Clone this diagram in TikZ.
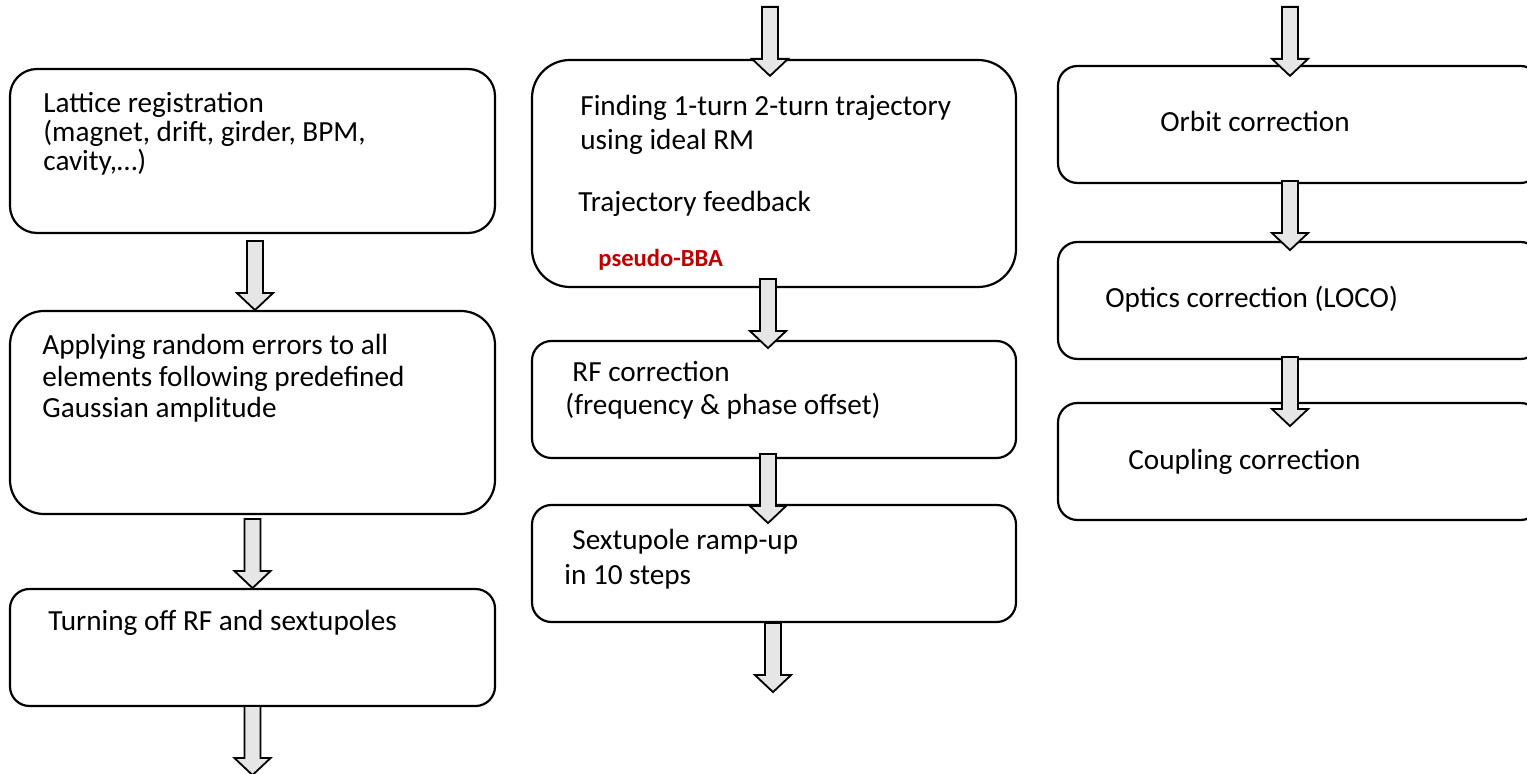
\documentclass[tikz,border=0pt]{standalone}
\usepackage{fontspec}
\setmainfont{Carlito}
\usepackage{tikz}

\definecolor{bbared}{HTML}{C00000}
\definecolor{arrowgray}{HTML}{E7E6E6}

% block arrow pointing down, tail centre at #1
\newcommand{\blockarrow}[1]{%
	\draw[line width=0.9pt, fill=arrowgray, line join=miter]
		(#1) ++(-8, 0) -- ++(16, 0) -- ++(0, 52) -- ++(10, 0) --
		++(-18, 17) -- ++(-18, -17) -- ++(10, 0) -- cycle;}

\begin{document}
\begin{tikzpicture}[x=0.5pt, y=-0.5pt,
	stepbox/.style = {draw, line width=1.1pt, rounded corners=9.75pt,
		minimum width=242.5pt, minimum height=58.5pt, inner sep=0pt},
	steptext/.style = {anchor=base west, inner sep=0pt,
		font=\fontsize{14.6pt}{16pt}\selectfont}]

\useasboundingbox (0, 0) rectangle (1527, 774);

%left column
\node[stepbox, rounded corners=13.5pt, minimum height=82pt] (box1) at (252.5, 151) {};
\node[stepbox, rounded corners=17pt, minimum height=101.5pt] (box2) at (252.5, 412.5) {};
\node[stepbox] (box3) at (252.5, 647.5) {};

\node[steptext] (lat1) at (43, 113) {Lattice registration};
\node[steptext] (lat2) at (43, 142) {(magnet, drift, girder, BPM,};
\node[steptext] (lat3) at (43, 171) {cavity,…)};

\node[steptext] (err1) at (42, 355) {Applying random errors to all};
\node[steptext] (err2) at (42, 387) {elements following predefined};
\node[steptext] (err3) at (42, 418) {Gaussian amplitude};

\node[steptext] (off1) at (48, 631) {Turning off RF and sextupoles};

%middle column
\node[stepbox, rounded corners=19pt, minimum width=242pt, minimum height=113.5pt] (box4) at (774, 173.5) {};
\node[stepbox, minimum width=242pt] (box5) at (774, 399.5) {};
\node[stepbox, minimum width=242pt] (box6) at (774, 563.5) {};

\node[steptext] (traj1) at (580, 116) {Finding 1-turn 2-turn trajectory};
\node[steptext] (traj2) at (580, 150) {using ideal RM};
\node[steptext] (traj3) at (578, 212) {Trajectory feedback};
\node[steptext, font=\fontsize{12.3pt}{14pt}\bfseries\selectfont,
	text=bbared] (bba) at (598, 267) {pseudo-BBA};

\node[steptext] (rf1) at (572, 382) {RF correction};
\node[steptext] (rf2) at (565, 415) {(frequency \& phase offset)};

\node[steptext] (sext1) at (572, 550) {Sextupole ramp-up};
\node[steptext] (sext2) at (564, 585) {in 10 steps};

%right column, cut at the page edge
\node[stepbox, minimum width=241pt] (box7) at (1299, 124.5) {};
\node[stepbox, minimum width=241pt] (box8) at (1299, 300.5) {};
\node[stepbox, minimum width=241pt] (box9) at (1299, 461.5) {};

\node[steptext] (orb) at (1160, 132) {Orbit correction};
\node[steptext] (loco) at (1105, 308) {Optics correction (LOCO)};
\node[steptext] (coup) at (1128, 470) {Coupling correction};

%arrows start
\coordinate (ar1) at ([xshift=1.25pt, yshift=-3.5pt]box1.south);
\coordinate (ar2) at ([yshift=-2pt]box2.south);
\coordinate (ar3) at ([yshift=0.5pt]box3.south);
\coordinate (ar4) at ([xshift=-2pt, yshift=26pt]box4.north);
\coordinate (ar5) at ([xshift=-3pt, yshift=4.5pt]box4.south);
\coordinate (ar6) at ([xshift=-3pt, yshift=2.5pt]box5.south);
\coordinate (ar7) at ([xshift=-0.5pt]box6.south);
\coordinate (ar8) at ([xshift=-4.5pt, yshift=29pt]box7.north);
\coordinate (ar9) at ([xshift=-4.5pt, yshift=1.5pt]box7.south);
\coordinate (ar10) at ([xshift=-4.5pt, yshift=1.5pt]box8.south);

\foreach \a in {ar1, ar2, ar3, ar4, ar5, ar6, ar7, ar8, ar9, ar10}
	\blockarrow{\a};
%arrows end

\end{tikzpicture}
\end{document}
